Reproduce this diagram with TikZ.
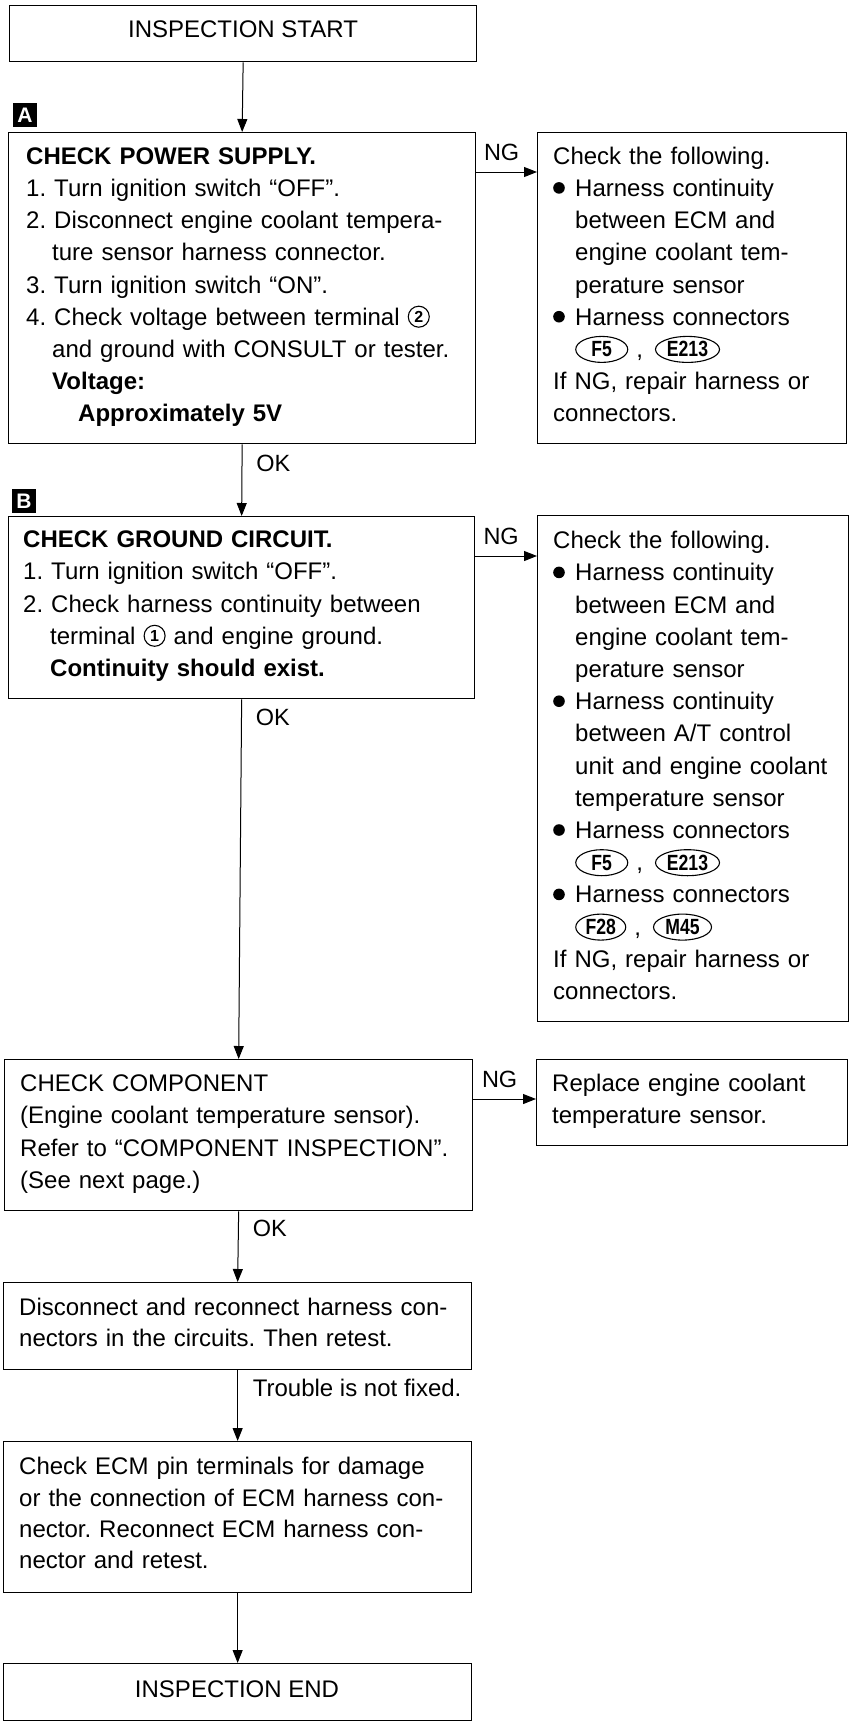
\documentclass[tikz,border=0pt]{standalone}
\usepackage{fontspec}
\setmainfont{Liberation Sans}
\usetikzlibrary{arrows.meta,shapes.geometric}
\frenchspacing

\newcommand\fl{\rule{0pt}{22pt}}
\newcommand\ind[1]{\hspace*{#1pt}}
\newcommand\bul{\makebox[22pt][l]{\tikz[baseline=0pt]\fill (5.5pt,8.5pt) circle (5.8pt);}}
\newcommand\circnum[1]{\tikz[baseline=0pt]{\draw[line width=1.1pt] (0pt,8.5pt) circle (10.5pt); \node[anchor=center,inner sep=0pt,text width=,align=center,font=\bfseries\fontsize{16}{16}\selectfont] at (0pt,8.5pt) {#1};}}
\newcommand\conn[2]{\tikz[baseline=0pt]\node[anchor=center,draw,ellipse,line width=1.1pt,minimum width=#2pt,minimum height=26pt,inner sep=0pt,text width=,align=center] at (0pt,8pt) {\scalebox{0.8}[1]{\bfseries\fontsize{22}{22}\selectfont #1}};}

\begin{document}
\begin{tikzpicture}[x=1pt,y=-1pt,
  box/.style={draw,line width=1.3pt,inner sep=0pt,anchor=north west},
  txt/.style={anchor=north west,inner sep=0pt,align=left,font=\fontsize{24}{32.2}\selectfont},
  lbl/.style={inner sep=0pt,font=\fontsize{23.5}{24}\selectfont},
  arr/.style={line width=1pt,-{Triangle[length=13pt,width=10pt]}},
  marker/.style={fill=black,text=white,inner sep=0pt,minimum width=24pt,minimum height=24pt,font=\bfseries\fontsize{21}{21}\selectfont}]

\fill[white] (0,0) rectangle (850,1722);
\useasboundingbox (0,0) rectangle (850,1722);

% start
\node[box,minimum width=467pt,minimum height=56pt] (start) at (9,5) {};
\node[lbl,font=\fontsize{24}{24}\selectfont] (tstart) at (243,29.5) {INSPECTION START};

% A
\node[marker] (mA) at (25,115) {A};
\node[box,minimum width=467pt,minimum height=311pt] (A) at (8,132) {};
\node[txt,text width=460pt] (tA) at (26,142) {\fl\textbf{CHECK POWER SUPPLY.}\\
1. Turn ignition switch “OFF”.\\
2. Disconnect engine coolant tempera-\\
\ind{26}ture sensor harness connector.\\
3. Turn ignition switch “ON”.\\
4. Check voltage between terminal \circnum{2}\\
\ind{26}and ground with CONSULT or tester.\\
\ind{26}\textbf{Voltage:}\\
\ind{52}\textbf{Approximately 5V}};

\node[box,minimum width=309pt,minimum height=311pt] (Ap) at (537,132) {};
\node[txt,text width=300pt] (tAp) at (553,142) {\fl Check the following.\\
\bul Harness continuity\\
\ind{22}between ECM and\\
\ind{22}engine coolant tem-\\
\ind{22}perature sensor\\
\bul Harness connectors\\
\ind{22}\conn{F5}{52}\hspace{8pt},\hspace{12pt}\conn{E213}{64}\\
If NG, repair harness or\\
connectors.};

% B
\node[marker] (mB) at (24,501) {B};
\node[box,minimum width=466pt,minimum height=182pt] (B) at (8,516) {};
\node[txt,text width=460pt] (tB) at (23,525.5) {\fl\textbf{CHECK GROUND CIRCUIT.}\\
1. Turn ignition switch “OFF”.\\
2. Check harness continuity between\\
\ind{27}terminal \circnum{1} and engine ground.\\
\ind{27}\textbf{Continuity should exist.}};

\node[box,minimum width=311pt,minimum height=506pt] (Bp) at (537,515) {};
\node[txt,text width=300pt] (tBp) at (553,526.5) {\fl Check the following.\\
\bul Harness continuity\\
\ind{22}between ECM and\\
\ind{22}engine coolant tem-\\
\ind{22}perature sensor\\
\bul Harness continuity\\
\ind{22}between A/T control\\
\ind{22}unit and engine coolant\\
\ind{22}temperature sensor\\
\bul Harness connectors\\
\ind{22}\conn{F5}{52}\hspace{8pt},\hspace{12pt}\conn{E213}{64}\\
\bul Harness connectors\\
\ind{22}\conn{F28}{50}\hspace{8pt},\hspace{12pt}\conn{M45}{58}\\
If NG, repair harness or\\
connectors.};

% C
\node[box,minimum width=468pt,minimum height=151pt] (C) at (4,1059) {};
\node[txt,text width=460pt] (tC) at (20,1069.5) {\fl CHECK COMPONENT\\
(Engine coolant temperature sensor).\\
Refer to “COMPONENT INSPECTION”.\\
(See next page.)};

\node[box,minimum width=311pt,minimum height=86pt] (Cp) at (536,1059) {};
\node[txt,text width=300pt] (tCp) at (552,1069.5) {\fl Replace engine coolant\\
temperature sensor.};

% D
\node[box,minimum width=468pt,minimum height=87pt] (D) at (3,1282) {};
\node[txt,text width=460pt,font=\fontsize{24}{30.5}\selectfont] (tD) at (19,1293.5) {\fl Disconnect and reconnect harness con-\\
nectors in the circuits. Then retest.};

% E
\node[box,minimum width=468pt,minimum height=151pt] (E) at (3,1441) {};
\node[txt,text width=460pt,font=\fontsize{24}{31.3}\selectfont] (tE) at (19,1452.5) {\fl Check ECM pin terminals for damage\\
or the connection of ECM harness con-\\
nector. Reconnect ECM harness con-\\
nector and retest.};

% F
\node[box,minimum width=468pt,minimum height=57pt] (F) at (3,1663) {};
\node[lbl,font=\fontsize{24}{24}\selectfont] (tF) at (237,1689) {INSPECTION END};

% connectors
\draw[arr] (start.south) -- (A.north);

\coordinate (ngA) at ([yshift=-40pt]A.north east);
\draw[arr] (ngA) -- (ngA -| Ap.west) node[lbl,midway,yshift=20pt,xshift=-5pt] (lngA) {NG};

\draw[arr] (A.south) -- (B.north);
\node[lbl,anchor=west] (okA) at ([xshift=14pt,yshift=-19pt]A.south) {OK};

\coordinate (ngB) at ([yshift=-40pt]B.north east);
\draw[arr] (ngB) -- (ngB -| Bp.west) node[lbl,midway,yshift=20pt,xshift=-5pt] (lngB) {NG};

\draw[arr] (B.south) -- (C.north);
\node[lbl,anchor=west] (okB) at ([xshift=14pt,yshift=-18pt]B.south) {OK};

\coordinate (ngC) at ([yshift=-40pt]C.north east);
\draw[arr] (ngC) -- (ngC -| Cp.west) node[lbl,midway,yshift=20pt,xshift=-5pt] (lngC) {NG};

\draw[arr] (C.south) -- (D.north);
\node[lbl,anchor=west] (okC) at ([xshift=14pt,yshift=-17pt]C.south) {OK};

\draw[arr] (D.south) -- (E.north);
\node[lbl,anchor=west,font=\fontsize{24}{24}\selectfont] (tnf) at ([xshift=15pt,yshift=-18pt]D.south) {Trouble is not fixed.};

\draw[arr] (E.south) -- (F.north);
\end{tikzpicture}
\end{document}
